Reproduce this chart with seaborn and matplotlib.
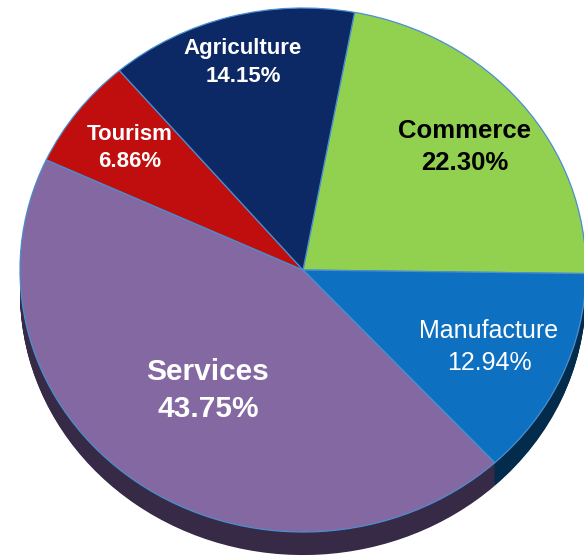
import numpy as np
import matplotlib
matplotlib.use("Agg")
import matplotlib.pyplot as plt
import seaborn as sns

# sector shares (%) in clockwise order starting at the top
sectors = ["Commerce", "Manufacture", "Services", "Tourism", "Agriculture"]
shares = [22.30, 12.94, 43.75, 6.86, 14.15]
top_colors = ["#92D050", "#0E70C0", "#8468A2", "#C00D0D", "#0C2865"]
side_colors = ["#4E7A22", "#032C4C", "#372A47", "#6A0606", "#061536"]
text_colors = ["black", "white", "white", "white", "white"]
label_sizes = [18.5, 18, 21.5, 16, 16]
label_weights = ["bold", "normal", "bold", "bold", "bold"]
label_dist = [0.74, 0.72, 0.57, 0.77, 0.82]

sns.set_theme(style="white")
plt.rcParams["font.family"] = ["Liberation Sans", "DejaVu Sans"]

fig = plt.figure(figsize=(5.84, 5.60), dpi=100)
ax = fig.add_axes([0, 0, 1, 1])

start = 79.5
depth = 0.088
n_layers = 30

# 3D side: stack of dark pies shifted downward
for k in range(n_layers):
    off = -depth * (1 - k / n_layers)
    ax.pie(shares, colors=side_colors, startangle=start, counterclock=False,
           center=(0, off), wedgeprops=dict(linewidth=0))

wedges, _ = ax.pie(shares, colors=top_colors, startangle=start, counterclock=False,
                   wedgeprops=dict(linewidth=0.9, edgecolor="#4A8FD0"))

for w, name, val, c, s, fw, d in zip(wedges, sectors, shares, text_colors,
                                     label_sizes, label_weights, label_dist):
    mid = np.deg2rad((w.theta1 + w.theta2) / 2)
    ax.text(d * np.cos(mid), d * np.sin(mid), f"{name}\n{val:.2f}%",
            ha="center", va="center", color=c, fontsize=s, fontweight=fw,
            linespacing=1.4)

ax.set_aspect("auto")
ax.set_xlim(-303 / 283, (584 - 303) / 283)
ax.set_ylim(-(560 - 270) / 262, 270 / 262)
ax.axis("off")

fig.savefig("out.png", dpi=100)
